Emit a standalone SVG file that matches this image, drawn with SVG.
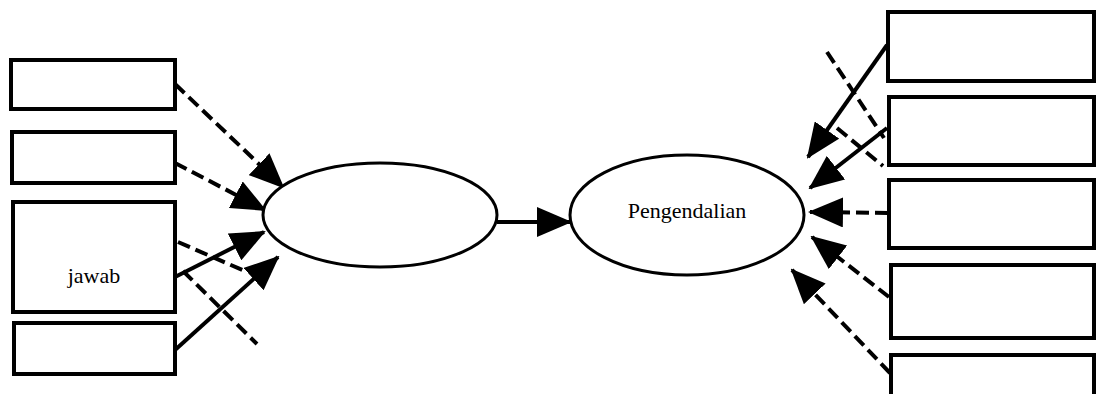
<svg xmlns="http://www.w3.org/2000/svg" width="1096" height="394" viewBox="0 0 1096 394">
<defs>
<style>
.box{fill:#fff;stroke:#000;stroke-width:4}
.ell{fill:#fff;stroke:#000;stroke-width:3}
.ln{fill:none;stroke:#000;stroke-width:4}
.d{stroke-dasharray:13 6}
.t{font-family:"Liberation Serif",serif;font-size:22px;fill:#000}
</style>
<marker id="ah" markerUnits="userSpaceOnUse" markerWidth="35" markerHeight="30" viewBox="0 0 35 30" refX="33" refY="15" orient="auto">
<path d="M0,0 L35,15 L0,30 Z" fill="#000"/>
</marker>
</defs>
<rect width="1096" height="394" fill="#fff"/>
<g id="connectors">
<path class="ln d" d="M175,84 L283,187" marker-end="url(#ah)"/>
<path class="ln d" d="M175,163 L265,210" marker-end="url(#ah)"/>
<path class="ln" d="M175,277 L264,232" marker-end="url(#ah)"/>
<path class="ln" d="M175,350 L278,257" marker-end="url(#ah)"/>
<path class="ln d" d="M178,242 L247,272"/>
<path class="ln d" d="M183,271 L257,344"/>
<path class="ln" d="M497,222 L570,222" marker-end="url(#ah)"/>
<path class="ln" d="M887,45 L808,157" marker-end="url(#ah)"/>
<path class="ln d" d="M827,52 L884,138"/>
<path class="ln" d="M887,128 L810,188" marker-end="url(#ah)"/>
<path class="ln d" d="M837,128 L883,166"/>
<path class="ln d" d="M888,213 L810,212" marker-end="url(#ah)"/>
<path class="ln d" d="M889,297 L812,237" marker-end="url(#ah)"/>
<path class="ln d" d="M890,373 L792,270" marker-end="url(#ah)"/>
</g>
<g id="box-l1"><rect class="box" x="11" y="60" width="164" height="49"/></g>
<g id="box-l2"><rect class="box" x="12" y="132" width="163" height="51"/></g>
<g id="box-l3"><rect class="box" x="13" y="202" width="162" height="110"/><text class="t" x="94" y="283" text-anchor="middle">jawab</text></g>
<g id="box-l4"><rect class="box" x="14" y="323" width="161" height="51"/></g>
<g id="ellipse-1"><ellipse class="ell" cx="380" cy="215" rx="117" ry="52"/></g>
<g id="ellipse-2"><ellipse class="ell" cx="687" cy="215" rx="117" ry="60"/><text class="t" x="687" y="218" text-anchor="middle">Pengendalian</text></g>
<g id="box-r1"><rect class="box" x="888" y="12" width="206" height="69"/></g>
<g id="box-r2"><rect class="box" x="889" y="97" width="205" height="68"/></g>
<g id="box-r3"><rect class="box" x="889" y="180" width="205" height="68"/></g>
<g id="box-r4"><rect class="box" x="891" y="265" width="203" height="73"/></g>
<g id="box-r5"><rect class="box" x="891" y="355" width="203" height="45"/></g>
</svg>
